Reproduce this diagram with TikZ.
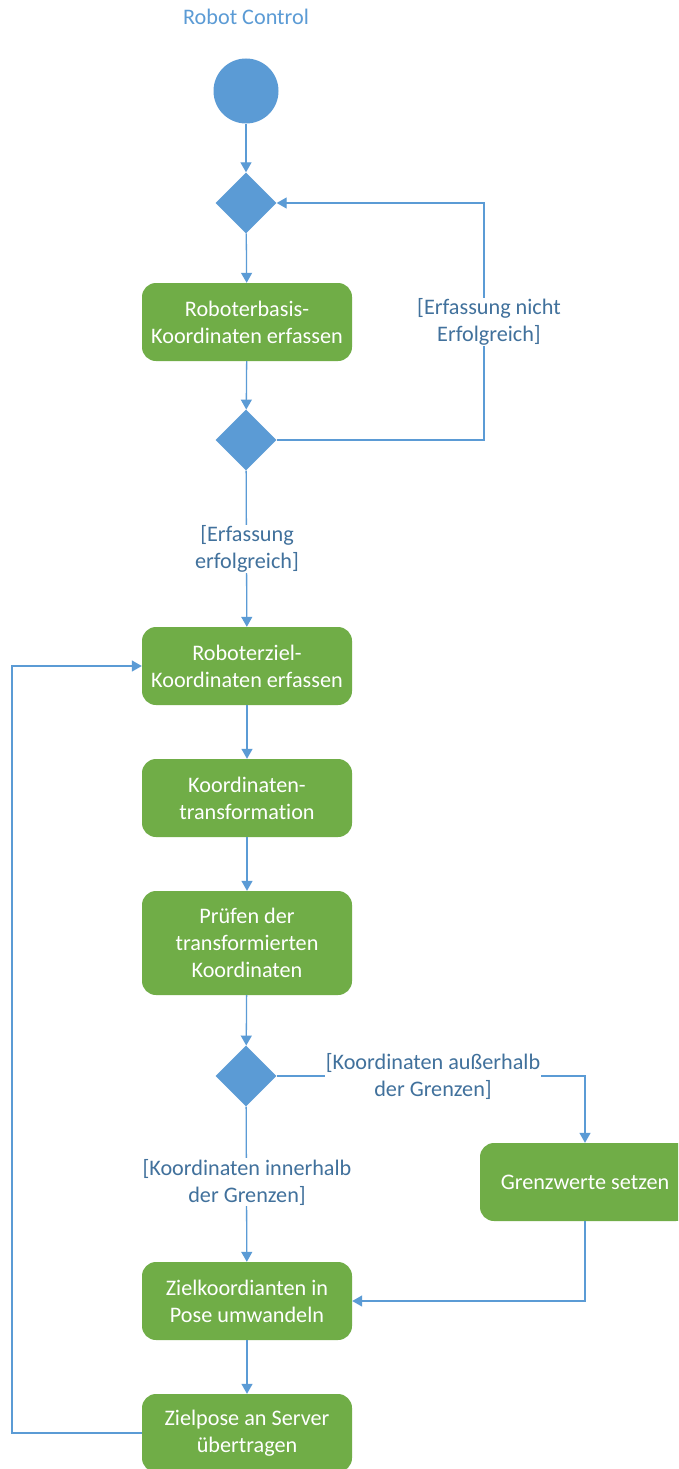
\documentclass[tikz,border=0pt]{standalone}
\usepackage{fontspec}
\setmainfont{Carlito}[Ligatures=NoCommon]
\usetikzlibrary{shapes.geometric,arrows.meta}
\definecolor{ogreen}{HTML}{70AD47}
\definecolor{oblue}{HTML}{5B9BD5}
\definecolor{lblue}{HTML}{41719C}
\tikzset{
  actbox/.style={rectangle, rounded corners=14pt, fill=ogreen, text=white, minimum width=210pt, minimum height=78pt, align=center, inner sep=0pt, font=\fontsize{22.2}{27}\selectfont},
  decis/.style={diamond, fill=oblue, minimum width=61pt, minimum height=61pt, inner sep=0pt},
  conn/.style={draw=oblue, line width=1.3pt, -{Triangle[length=10pt,width=11pt]}},
  guard/.style={fill=white, text=lblue, align=center, inner sep=1pt, font=\fontsize{22.2}{27}\selectfont}
}
\begin{document}
\begin{tikzpicture}[x=1pt,y=-1pt]
\clip (0,0) rectangle (678,1469);
\fill[white] (0,0) rectangle (678,1469);
\node[text=oblue, font=\fontsize{22.2}{27}\selectfont] (title) at (246,17) {Robot Control};
\node[circle, fill=oblue, minimum size=65pt, inner sep=0pt] (start) at (246,91) {};
\node[decis] (d1) at (246,203) {};
\node[actbox] (b1) at (247,322) {Roboterbasis-\\Koordinaten erfassen};
\node[decis] (d2) at (246,440) {};
\node[actbox] (b2) at (247,666) {Roboterziel-\\Koordinaten erfassen};
\node[actbox] (b3) at (247,798) {Koordinaten-\\transformation};
\node[actbox, minimum height=104pt] (b4) at (247,943) {Prüfen der\\transformierten\\Koordinaten};
\node[decis] (d3) at (246,1076) {};
\node[actbox] (b5) at (585,1182) {Grenzwerte setzen};
\node[actbox] (b6) at (247,1301) {Zielkoordianten in\\Pose umwandeln};
\node[actbox] (b7) at (247,1433) {Zielpose an Server\\übertragen};
\coordinate (c1) at (484,440);
\coordinate (c2) at (484,203);
\coordinate (c3) at (585,1076);
\coordinate (c4) at (585,1301);
\coordinate (c5) at (12,1433);
\coordinate (c6) at (12,666);
% connectors
\draw[conn] (start) -- (d1);
\draw[conn] (d1) -- (b1);
\draw[conn] (b1) -- (d2);
\draw[conn] (d2.east) -- (c1) -- (c2) -- (d1.east);
\draw[conn] (d2) -- (b2);
\draw[conn] (b2) -- (b3);
\draw[conn] (b3) -- (b4);
\draw[conn] (b4) -- (d3);
\draw[conn] (d3.east) -- (c3) -- (b5.north);
\draw[conn] (d3) -- (b6);
\draw[conn] (b5.south) -- (c4) -- (b6.east);
\draw[conn] (b6) -- (b7);
\draw[conn] (b7.west) -- (c5) -- (c6) -- (b2.west);
% guards
\node[guard] (g1) at (489,322) {[Erfassung nicht\\Erfolgreich]};
\node[guard] (g2) at (247,549) {[Erfassung\\erfolgreich]};
\node[guard] (g3) at (433,1076) {[Koordinaten außerhalb\\der Grenzen]};
\node[guard] (g4) at (247,1182) {[Koordinaten innerhalb\\der Grenzen]};
\end{tikzpicture}
\end{document}
